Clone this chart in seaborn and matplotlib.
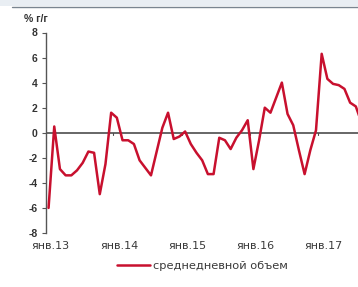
import matplotlib
matplotlib.use("Agg")
import matplotlib.pyplot as plt
import numpy as np
import pandas as pd
import seaborn as sns

# monthly values, % y/y, Jan 2013 .. Aug 2017
months = pd.date_range("2013-01-01", periods=56, freq="MS")
values = [
    -6.0, 0.5, -2.9, -3.4, -3.4, -3.0, -2.4, -1.5, -1.6, -4.9, -2.5, 1.6,
    1.2, -0.6, -0.6, -0.9, -2.2, -2.8, -3.4, -1.5, 0.4, 1.6, -0.5, -0.3,
    0.1, -0.9, -1.6, -2.2, -3.3, -3.3, -0.4, -0.6, -1.3, -0.4, 0.2, 1.0,
    -2.9, -0.6, 2.0, 1.6, 2.8, 4.0, 1.5, 0.6, -1.4, -3.3, -1.4, 0.2,
    6.3, 4.3, 3.9, 3.8, 3.5, 2.4, 2.1, 0.8,
]
tick_labels = ["янв.13", "янв.14", "янв.15", "янв.16", "янв.17"]
y_ticks = [-8, -6, -4, -2, 0, 2, 4, 6, 8]
series_name = "среднедневной объем"

df = pd.DataFrame({"month": months, "value": values})
df["idx"] = np.arange(len(df))

sns.set_style("white")
plt.rcParams["font.family"] = ["Liberation Sans", "DejaVu Sans"]

W, H = 358, 287
fig = plt.figure(figsize=(W / 100, H / 100), dpi=100)

# top band of the source page
fig.patches.append(plt.Rectangle((0, 1 - 6 / H), 1, 6 / H, transform=fig.transFigure,
                                 facecolor="#E9EEF3", edgecolor="none"))
fig.add_artist(plt.Line2D([12 / W, 1], [1 - 6.5 / H] * 2, transform=fig.transFigure,
                          color="#7A8590", lw=1.0))

px_per_month = 5.69
ax = fig.add_axes([46 / W, 54 / H, 56 * px_per_month / W, 200.5 / H])

sns.lineplot(data=df, x="idx", y="value", color="#C8102E", lw=1.8,
             label=series_name, ax=ax, zorder=3)

ax.set_xlim(-0.45, 55.55)
ax.set_ylim(-8, 8)
ax.axhline(0, color="#4D4D4D", lw=1.2, zorder=2)

# axis styling
for s in ["top", "right", "bottom"]:
    ax.spines[s].set_visible(False)
ax.spines["left"].set_color("#555555")
ax.spines["left"].set_linewidth(1.0)

ax.set_yticks(y_ticks)
ax.set_yticklabels([str(v) for v in y_ticks], fontsize=7.5, fontweight="bold", color="#333333")
ax.tick_params(axis="y", direction="out", length=3, width=0.8, color="#555555", pad=3, left=True)

year_pos = df.index[df["month"].dt.month == 1].to_numpy()
ax.set_xticks(year_pos + 0.4)
ax.set_xticklabels(tick_labels, fontsize=8, color="#3A3A3A", family="DejaVu Sans")
ax.tick_params(axis="x", length=0, pad=6)
for xp in year_pos[1:] - 0.6:
    ax.plot([xp, xp], [0, -0.2], color="#4D4D4D", lw=0.8, zorder=2)

ax.set_xlabel("")
ax.set_ylabel("")
fig.text(24 / W, 1 - 19 / H, "% г/г", fontsize=7.5, fontweight="bold",
         color="#333333", ha="left", va="center")

leg = ax.legend(loc="center left", bbox_to_anchor=(117 / W, 1 - 266 / H),
                bbox_transform=fig.transFigure, frameon=False,
                prop={"family": "DejaVu Sans", "size": 8.2},
                handlelength=2.9, handletextpad=0.25, borderaxespad=0, borderpad=0)
for t in leg.get_texts():
    t.set_color("#3A3A3A")

fig.savefig("out.png", dpi=100)
